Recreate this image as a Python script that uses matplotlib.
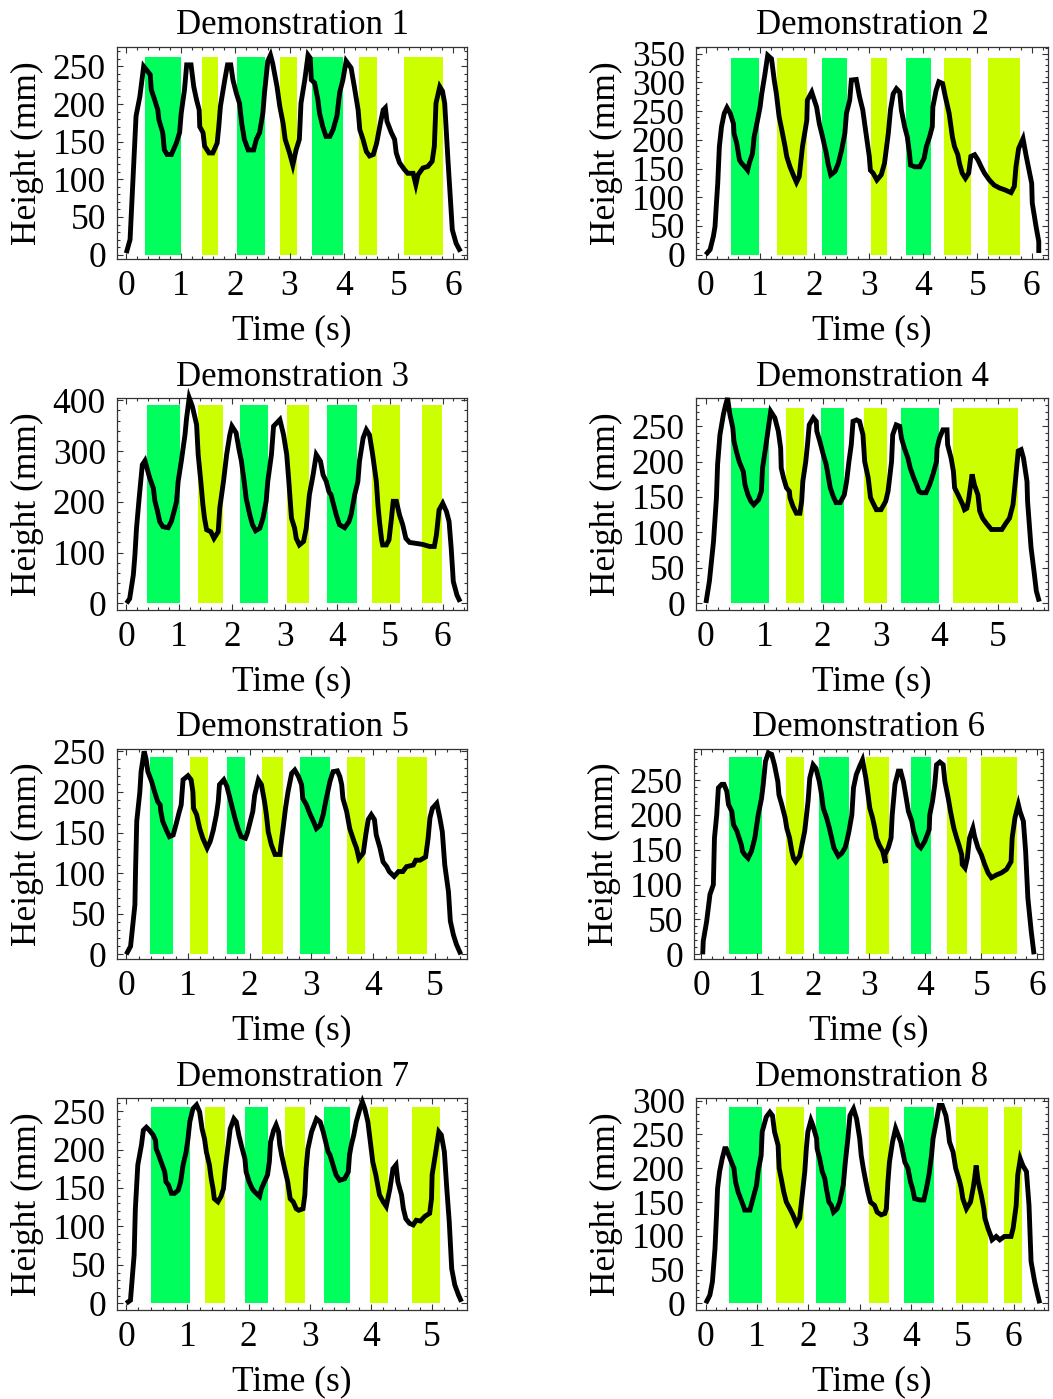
import matplotlib
matplotlib.use('Agg')
import matplotlib.pyplot as plt
from matplotlib.ticker import MultipleLocator

plt.rcParams['font.family'] = ['Liberation Serif', 'DejaVu Serif']
plt.rcParams['font.size'] = 25

GREEN = '#00ff5c'
YELLOW = '#ccff00'
FRAME = '#333333'

# ── Demonstration 1 ───────────────────────────────────────────────
time1 = [0.00, 0.07, 0.18, 0.25, 0.32, 0.44, 0.46, 0.52, 0.58, 0.60,
         0.67, 0.70, 0.75, 0.83, 0.92, 0.98, 1.01, 1.07, 1.11, 1.19,
         1.24, 1.29, 1.34, 1.35, 1.41, 1.44, 1.52, 1.59, 1.67, 1.70,
         1.73, 1.81, 1.86, 1.92, 1.96, 2.02, 2.08, 2.12, 2.17, 2.24,
         2.34, 2.39, 2.45, 2.51, 2.54, 2.60, 2.65, 2.69, 2.77, 2.82,
         2.88, 2.92, 3.00, 3.06, 3.12, 3.18, 3.21, 3.28, 3.34, 3.38,
         3.40, 3.46, 3.52, 3.55, 3.61, 3.67, 3.74, 3.80, 3.87, 3.92,
         3.98, 4.04, 4.13, 4.19, 4.26, 4.29, 4.35, 4.41, 4.47, 4.54,
         4.60, 4.67, 4.72, 4.76, 4.79, 4.87, 4.93, 4.96, 5.02, 5.11,
         5.17, 5.27, 5.32, 5.36, 5.45, 5.54, 5.62, 5.66, 5.69, 5.76,
         5.81, 5.85, 5.91, 5.99, 6.06, 6.14]
height1 = [2, 20, 184, 210, 250, 239, 219, 206, 192, 179,
           162, 139, 133, 133, 148, 162, 188, 219, 252, 252,
           223, 206, 192, 170, 162, 144, 135, 135, 148, 170,
           197, 232, 252, 252, 232, 215, 201, 175, 153, 139,
           139, 153, 162, 188, 215, 257, 265, 254, 223, 197,
           175, 153, 135, 119, 139, 153, 201, 232, 265, 261,
           232, 228, 206, 188, 170, 157, 157, 166, 184, 215,
           232, 257, 248, 223, 192, 166, 153, 137, 131, 133,
           148, 175, 192, 195, 177, 162, 153, 135, 122, 113,
           108, 108, 93, 106, 115, 117, 124, 144, 201, 223,
           217, 201, 126, 33, 15, 4]
green1 = [(0.34, 1.00), (2.03, 2.55), (3.42, 3.98)]
yellow1 = [(1.40, 1.68), (2.82, 3.14), (4.27, 4.60), (5.11, 5.81)]
top1 = 262

# ── Demonstration 2 ───────────────────────────────────────────────
time2 = [0.00, 0.08, 0.14, 0.17, 0.20, 0.22, 0.25, 0.29, 0.34, 0.39,
         0.45, 0.51, 0.52, 0.57, 0.62, 0.66, 0.72, 0.77, 0.80, 0.86,
         0.89, 0.94, 1.00, 1.03, 1.09, 1.14, 1.21, 1.26, 1.30, 1.35,
         1.40, 1.46, 1.49, 1.55, 1.61, 1.67, 1.72, 1.78, 1.86, 1.87,
         1.95, 2.04, 2.09, 2.15, 2.19, 2.22, 2.25, 2.30, 2.38, 2.44,
         2.50, 2.56, 2.59, 2.65, 2.68, 2.77, 2.83, 2.89, 2.95, 3.01,
         3.03, 3.08, 3.15, 3.23, 3.29, 3.36, 3.40, 3.45, 3.51, 3.57,
         3.60, 3.66, 3.71, 3.75, 3.77, 3.85, 3.94, 4.02, 4.06, 4.12,
         4.17, 4.18, 4.24, 4.29, 4.36, 4.41, 4.48, 4.54, 4.58, 4.64,
         4.67, 4.72, 4.78, 4.84, 4.88, 4.95, 5.01, 5.07, 5.13, 5.22,
         5.31, 5.41, 5.50, 5.62, 5.68, 5.71, 5.76, 5.84, 5.90, 6.00,
         6.01, 6.08, 6.13, 6.13]
height2 = [0, 9, 32, 49, 95, 124, 188, 223, 246, 256,
           246, 228, 211, 194, 165, 159, 153, 147, 159, 176,
           205, 228, 257, 280, 315, 347, 341, 304, 280, 240,
           217, 188, 171, 153, 139, 126, 136, 188, 234, 269,
           283, 257, 228, 205, 188, 176, 159, 139, 145, 159,
           182, 211, 246, 269, 304, 305, 275, 252, 211, 171,
           147, 142, 130, 139, 159, 211, 252, 280, 289, 283,
           252, 223, 205, 176, 156, 153, 153, 168, 188, 205,
           223, 257, 286, 301, 298, 275, 246, 205, 188, 174,
           159, 142, 133, 142, 171, 174, 165, 153, 142, 130,
           121, 116, 113, 108, 119, 153, 185, 202, 171, 124,
           90, 49, 23, 3]
green2 = [(0.47, 0.98), (2.14, 2.60), (3.68, 4.14)]
yellow2 = [(1.32, 1.87), (3.04, 3.33), (4.38, 4.89), (5.19, 5.79)]
top2 = 343

# ── Demonstration 3 ───────────────────────────────────────────────
time3 = [0.00, 0.06, 0.13, 0.16, 0.19, 0.24, 0.30, 0.35, 0.39, 0.44,
         0.51, 0.54, 0.59, 0.63, 0.69, 0.79, 0.85, 0.92, 0.95, 0.98,
         1.04, 1.11, 1.14, 1.19, 1.25, 1.33, 1.36, 1.41, 1.45, 1.48,
         1.52, 1.60, 1.66, 1.74, 1.77, 1.84, 1.90, 1.96, 2.00, 2.08,
         2.13, 2.18, 2.24, 2.27, 2.34, 2.39, 2.45, 2.53, 2.59, 2.65,
         2.68, 2.75, 2.79, 2.91, 2.98, 3.04, 3.08, 3.13, 3.19, 3.22,
         3.28, 3.36, 3.41, 3.47, 3.54, 3.60, 3.68, 3.73, 3.79, 3.84,
         3.88, 3.93, 3.98, 4.04, 4.14, 4.22, 4.26, 4.33, 4.39, 4.42,
         4.49, 4.55, 4.61, 4.67, 4.74, 4.77, 4.80, 4.84, 4.86, 4.93,
         4.98, 5.02, 5.06, 5.12, 5.18, 5.24, 5.30, 5.37, 5.50, 5.62,
         5.75, 5.84, 5.88, 5.93, 6.00, 6.07, 6.12, 6.16, 6.20, 6.27,
         6.33]
height3 = [0, 9, 56, 95, 148, 207, 273, 281, 266, 247,
           227, 201, 181, 161, 151, 149, 161, 188, 201, 240,
           280, 332, 365, 405, 388, 352, 293, 240, 194, 168,
           145, 141, 128, 141, 188, 240, 293, 332, 349, 336,
           306, 280, 234, 207, 174, 155, 143, 148, 168, 201,
           240, 293, 349, 362, 332, 293, 240, 168, 148, 128,
           115, 122, 148, 214, 253, 293, 280, 253, 240, 220,
           214, 194, 174, 155, 149, 161, 174, 214, 240, 280,
           326, 342, 332, 293, 240, 194, 161, 125, 115, 115,
           125, 161, 201, 201, 174, 155, 128, 120, 118, 116,
           112, 112, 135, 184, 197, 181, 161, 109, 43, 16,
           3]
green3 = [(0.39, 1.01), (2.15, 2.68), (3.80, 4.37)]
yellow3 = [(1.35, 1.83), (3.05, 3.47), (4.65, 5.18), (5.60, 5.98)]
top3 = 391

# ── Demonstration 4 ───────────────────────────────────────────────
time4 = [0.00, 0.06, 0.13, 0.18, 0.20, 0.24, 0.30, 0.34, 0.37, 0.41,
         0.46, 0.48, 0.52, 0.57, 0.64, 0.67, 0.72, 0.77, 0.82, 0.90,
         0.95, 0.97, 1.03, 1.07, 1.11, 1.18, 1.24, 1.28, 1.29, 1.33,
         1.38, 1.43, 1.44, 1.49, 1.55, 1.61, 1.64, 1.66, 1.71, 1.74,
         1.77, 1.84, 1.89, 1.90, 1.95, 2.01, 2.06, 2.09, 2.13, 2.18,
         2.23, 2.30, 2.37, 2.41, 2.45, 2.49, 2.52, 2.58, 2.63, 2.69,
         2.72, 2.78, 2.82, 2.86, 2.92, 3.00, 3.08, 3.12, 3.18, 3.20,
         3.26, 3.32, 3.35, 3.40, 3.46, 3.50, 3.56, 3.61, 3.65, 3.69,
         3.77, 3.83, 3.89, 3.95, 3.96, 4.00, 4.06, 4.13, 4.14, 4.20,
         4.24, 4.26, 4.32, 4.40, 4.43, 4.47, 4.50, 4.56, 4.60, 4.66,
         4.69, 4.74, 4.80, 4.89, 4.97, 5.07, 5.14, 5.20, 5.26, 5.29,
         5.35, 5.40, 5.44, 5.50, 5.51, 5.54, 5.57, 5.62, 5.66, 5.71]
height4 = [0, 31, 87, 149, 196, 238, 267, 281, 290, 267,
           248, 229, 215, 200, 186, 167, 153, 144, 139, 146,
           158, 191, 224, 248, 271, 262, 243, 219, 191, 177,
           163, 158, 149, 137, 127, 127, 144, 172, 200, 224,
           252, 262, 257, 243, 229, 210, 196, 182, 163, 151,
           142, 142, 153, 172, 200, 224, 257, 259, 257, 238,
           200, 177, 149, 142, 132, 132, 144, 158, 200, 238,
           252, 250, 233, 219, 205, 191, 177, 167, 158, 156,
           156, 167, 182, 200, 219, 233, 245, 245, 224, 205,
           186, 163, 153, 139, 132, 134, 146, 182, 167, 153,
           130, 120, 113, 104, 104, 104, 113, 120, 139, 163,
           215, 217, 205, 172, 144, 111, 78, 45, 17, 2]
green4 = [(0.43, 1.08), (1.97, 2.36), (3.34, 3.99)]
yellow4 = [(1.37, 1.68), (2.70, 3.10), (4.24, 5.35)]
top4 = 276

# ── Demonstration 5 ───────────────────────────────────────────────
time5 = [0.00, 0.07, 0.14, 0.15, 0.17, 0.22, 0.24, 0.29, 0.32, 0.35,
         0.41, 0.46, 0.51, 0.55, 0.56, 0.59, 0.65, 0.70, 0.76, 0.81,
         0.86, 0.89, 0.92, 1.00, 1.05, 1.08, 1.09, 1.14, 1.19, 1.24,
         1.31, 1.36, 1.41, 1.46, 1.49, 1.51, 1.58, 1.63, 1.68, 1.72,
         1.76, 1.81, 1.86, 1.93, 1.96, 2.00, 2.05, 2.08, 2.14, 2.19,
         2.24, 2.27, 2.30, 2.35, 2.41, 2.49, 2.50, 2.54, 2.58, 2.62,
         2.68, 2.73, 2.79, 2.84, 2.86, 2.92, 2.97, 3.03, 3.08, 3.14,
         3.19, 3.23, 3.30, 3.35, 3.42, 3.46, 3.49, 3.51, 3.57, 3.62,
         3.69, 3.73, 3.77, 3.84, 3.88, 3.92, 3.97, 4.02, 4.05, 4.11,
         4.16, 4.22, 4.26, 4.34, 4.41, 4.48, 4.54, 4.65, 4.69, 4.76,
         4.85, 4.89, 4.92, 4.96, 5.03, 5.08, 5.12, 5.16, 5.22, 5.25,
         5.30, 5.35, 5.42]
height5 = [0, 10, 61, 102, 164, 200, 225, 250, 241, 225,
           213, 200, 188, 184, 176, 164, 153, 145, 147, 161,
           176, 184, 215, 220, 215, 200, 180, 172, 155, 143,
           131, 139, 153, 172, 188, 209, 215, 207, 192, 180,
           168, 155, 145, 143, 149, 161, 176, 196, 215, 209,
           188, 172, 151, 135, 123, 123, 131, 155, 180, 200,
           223, 227, 219, 209, 192, 184, 174, 164, 155, 159,
           172, 188, 213, 225, 226, 219, 209, 192, 176, 155,
           139, 131, 118, 125, 147, 166, 172, 166, 147, 131,
           114, 108, 102, 96, 102, 102, 108, 110, 116, 116,
           120, 143, 168, 180, 186, 168, 151, 110, 77, 41,
           24, 12, 0]
green5 = [(0.38, 0.75), (1.63, 1.92), (2.81, 3.30)]
yellow5 = [(1.03, 1.32), (2.20, 2.54), (3.57, 3.87), (4.38, 4.87)]
top5 = 243

# ── Demonstration 6 ───────────────────────────────────────────────
time6 = [0.03, 0.04, 0.10, 0.16, 0.22, 0.24, 0.28, 0.31, 0.37, 0.41,
         0.46, 0.49, 0.55, 0.58, 0.64, 0.68, 0.72, 0.74, 0.78, 0.84,
         0.90, 0.96, 1.02, 1.08, 1.11, 1.15, 1.20, 1.26, 1.31, 1.37,
         1.39, 1.44, 1.50, 1.53, 1.58, 1.62, 1.65, 1.69, 1.76, 1.80,
         1.85, 1.91, 1.94, 2.00, 2.05, 2.11, 2.15, 2.18, 2.24, 2.29,
         2.33, 2.37, 2.45, 2.51, 2.57, 2.60, 2.64, 2.69, 2.72, 2.77,
         2.83, 2.88, 2.94, 2.98, 3.01, 3.06, 3.10, 3.13, 3.18, 3.24,
         3.29, 3.28, 3.34, 3.39, 3.41, 3.46, 3.52, 3.56, 3.61, 3.65,
         3.70, 3.76, 3.79, 3.83, 3.87, 3.92, 3.99, 4.07, 4.08, 4.13,
         4.17, 4.20, 4.26, 4.32, 4.35, 4.41, 4.45, 4.51, 4.56, 4.60,
         4.65, 4.66, 4.71, 4.75, 4.79, 4.85, 4.88, 4.94, 5.00, 5.06,
         5.12, 5.18, 5.27, 5.36, 5.45, 5.53, 5.55, 5.60, 5.66, 5.69,
         5.75, 5.79, 5.83, 5.89, 5.94]
height6 = [0, 19, 47, 86, 100, 167, 200, 239, 244, 244,
           234, 215, 205, 186, 177, 167, 157, 148, 143, 138,
           148, 167, 200, 224, 244, 277, 289, 287, 272, 248,
           229, 215, 196, 181, 167, 148, 138, 133, 141, 157,
           177, 220, 253, 272, 267, 248, 229, 210, 196, 181,
           167, 153, 141, 145, 153, 162, 177, 200, 239, 258,
           270, 279, 253, 229, 210, 196, 181, 167, 157, 148,
           131, 143, 153, 167, 200, 244, 263, 263, 248, 229,
           205, 191, 177, 167, 157, 153, 162, 179, 200, 220,
           244, 272, 276, 272, 248, 224, 205, 181, 167, 157,
           143, 129, 124, 138, 167, 181, 169, 153, 143, 129,
           117, 110, 114, 117, 122, 133, 167, 196, 215, 205,
           191, 148, 81, 33, 0]
green6 = [(0.50, 1.09), (2.10, 2.64), (3.74, 4.10)]
yellow6 = [(1.52, 1.84), (2.94, 3.35), (4.39, 4.74), (4.99, 5.63)]
top6 = 283

# ── Demonstration 7 ───────────────────────────────────────────────
time7 = [0.00, 0.07, 0.13, 0.15, 0.19, 0.25, 0.28, 0.33, 0.38, 0.44,
         0.48, 0.49, 0.53, 0.57, 0.63, 0.65, 0.69, 0.74, 0.79, 0.85,
         0.89, 0.93, 0.98, 1.01, 1.04, 1.09, 1.15, 1.20, 1.24, 1.28,
         1.31, 1.36, 1.39, 1.42, 1.44, 1.50, 1.55, 1.59, 1.62, 1.66,
         1.70, 1.76, 1.80, 1.84, 1.88, 1.94, 1.96, 2.01, 2.06, 2.10,
         2.18, 2.21, 2.26, 2.31, 2.34, 2.36, 2.41, 2.45, 2.49, 2.51,
         2.54, 2.59, 2.64, 2.68, 2.73, 2.78, 2.82, 2.89, 2.92, 2.94,
         2.97, 3.03, 3.11, 3.17, 3.22, 3.26, 3.30, 3.33, 3.38, 3.43,
         3.49, 3.57, 3.63, 3.65, 3.68, 3.72, 3.76, 3.82, 3.86, 3.90,
         3.95, 3.99, 4.03, 4.08, 4.14, 4.20, 4.25, 4.31, 4.36, 4.41,
         4.44, 4.50, 4.53, 4.57, 4.63, 4.69, 4.74, 4.81, 4.88, 4.96,
         4.99, 5.00, 5.06, 5.11, 5.15, 5.20, 5.24, 5.28, 5.32, 5.37,
         5.43, 5.48]
height7 = [0, 4, 63, 123, 180, 206, 225, 229, 225, 219,
           212, 201, 193, 184, 171, 158, 154, 143, 143, 147,
           158, 180, 197, 214, 236, 253, 258, 249, 227, 214,
           197, 180, 162, 149, 136, 132, 139, 149, 175, 201,
           227, 240, 236, 219, 206, 188, 171, 158, 149, 145,
           139, 149, 158, 167, 184, 210, 225, 232, 223, 206,
           193, 175, 158, 136, 132, 123, 121, 123, 141, 175,
           201, 223, 240, 236, 223, 210, 197, 193, 180, 167,
           160, 162, 171, 193, 206, 219, 236, 253, 262, 253,
           236, 210, 184, 167, 141, 132, 126, 149, 175, 180,
           158, 141, 123, 110, 104, 102, 108, 107, 113, 117,
           136, 167, 197, 223, 219, 197, 149, 106, 45, 24,
           11, 2]
green7 = [(0.41, 1.04), (1.94, 2.31), (3.24, 3.65)]
yellow7 = [(1.28, 1.61), (2.59, 2.92), (3.98, 4.28), (4.67, 5.13)]
top7 = 255

# ── Demonstration 8 ───────────────────────────────────────────────
time8 = [0.00, 0.08, 0.13, 0.18, 0.21, 0.23, 0.27, 0.32, 0.37, 0.40,
         0.45, 0.50, 0.55, 0.58, 0.63, 0.68, 0.73, 0.76, 0.86, 0.92,
         0.99, 1.02, 1.08, 1.10, 1.18, 1.25, 1.30, 1.34, 1.41, 1.43,
         1.47, 1.52, 1.57, 1.64, 1.70, 1.77, 1.83, 1.88, 1.93, 1.96,
         1.99, 2.05, 2.09, 2.16, 2.17, 2.22, 2.27, 2.32, 2.35, 2.40,
         2.45, 2.49, 2.56, 2.61, 2.68, 2.72, 2.77, 2.81, 2.88, 2.94,
         3.00, 3.03, 3.07, 3.12, 3.16, 3.21, 3.29, 3.34, 3.42, 3.49,
         3.52, 3.55, 3.58, 3.64, 3.70, 3.75, 3.80, 3.84, 3.88, 3.94,
         3.99, 4.03, 4.07, 4.17, 4.25, 4.30, 4.35, 4.40, 4.43, 4.49,
         4.55, 4.61, 4.68, 4.72, 4.75, 4.82, 4.87, 4.95, 4.98, 5.01,
         5.08, 5.16, 5.21, 5.24, 5.27, 5.31, 5.37, 5.42, 5.44, 5.50,
         5.55, 5.58, 5.66, 5.73, 5.82, 5.95, 5.99, 6.05, 6.08, 6.13,
         6.18, 6.25, 6.30, 6.34, 6.41, 6.47, 6.51]
height8 = [0, 12, 32, 81, 131, 170, 195, 214, 229, 229,
           219, 209, 200, 180, 165, 155, 145, 138, 138, 155,
           175, 195, 219, 254, 276, 283, 278, 254, 234, 200,
           185, 165, 150, 140, 131, 118, 126, 160, 195, 229,
           254, 271, 263, 244, 229, 214, 195, 185, 170, 150,
           145, 135, 140, 150, 175, 209, 244, 278, 288, 273,
           244, 219, 200, 180, 165, 150, 145, 135, 131, 133,
           140, 180, 209, 239, 259, 249, 239, 224, 209, 200,
           180, 170, 155, 153, 153, 170, 190, 219, 244, 268,
           293, 293, 278, 259, 239, 224, 200, 180, 170, 155,
           140, 150, 170, 185, 204, 180, 160, 140, 126, 111,
           101, 94, 99, 94, 99, 99, 111, 145, 190, 214,
           204, 195, 145, 62, 32, 12, 0]
green8 = [(0.45, 1.09), (2.14, 2.73), (3.86, 4.44)]
yellow8 = [(1.36, 1.91), (3.18, 3.57), (4.87, 5.51), (5.81, 6.16)]
top8 = 290

# ── Layout (pixel boxes: left, right, top, bottom) ───────────────
W, H = 1053, 1399
layout = [
    (time1, height1, green1, yellow1, top1, (117, 467, 47, 259), (-0.17, 6.26), (-5.8, 275.7), 50),
    (time2, height2, green2, yellow2, top2, (696, 1048, 47, 259), (-0.18, 6.30), (-7.5, 361.5), 50),
    (time3, height3, green3, yellow3, top3, (117, 467, 398, 610), (-0.18, 6.46), (-13.2, 404.6), 100),
    (time4, height4, green4, yellow4, top4, (696, 1048, 398, 610), (-0.17, 5.86), (-9.9, 290.0), 50),
    (time5, height5, green5, yellow5, top5, (117, 467, 749, 959), (-0.15, 5.52), (-5.7, 252.9), 50),
    (time6, height6, green6, yellow6, top6, (694, 1043, 749, 959), (-0.125, 6.10), (-6.7, 294.7), 50),
    (time7, height7, green7, yellow7, top7, (117, 467, 1098, 1310), (-0.15, 5.57), (-8.7, 267.0), 50),
    (time8, height8, green8, yellow8, top8, (696, 1048, 1098, 1310), (-0.19, 6.67), (-9.9, 304.0), 50),
]

fig = plt.figure(figsize=(W / 100, H / 100), dpi=100)

for i, (t, h, greens, yellows, top, box, xlim, ylim, ystep) in enumerate(layout):
    left, right, ytop, ybot = box
    ax = fig.add_axes([left / W, 1 - ybot / H, (right - left) / W, (ybot - ytop) / H])

    # shaded phases
    for spans, color in ((greens, GREEN), (yellows, YELLOW)):
        starts = [s for s, e in spans]
        widths = [e - s for s, e in spans]
        ax.bar(starts, [top] * len(spans), width=widths, bottom=0, align='edge',
               color=color, linewidth=0, zorder=1)

    ax.plot(t, h, color='black', lw=3.5, solid_joinstyle='miter',
            solid_capstyle='butt', zorder=3, clip_on=False)

    ax.set_xlim(*xlim)
    ax.set_ylim(*ylim)
    ax.xaxis.set_major_locator(MultipleLocator(1))
    ax.xaxis.set_minor_locator(MultipleLocator(0.2))
    ax.yaxis.set_major_locator(MultipleLocator(ystep))
    ax.yaxis.set_minor_locator(MultipleLocator(ystep / 5))

    for sp in ax.spines.values():
        sp.set_color(FRAME)
        sp.set_linewidth(0.9)
    ax.tick_params(which='both', direction='in', top=True, right=True,
                   color=FRAME, width=0.8, labelsize=25.5)
    ax.tick_params(which='major', length=4, pad=8)
    ax.tick_params(which='minor', length=2)

    ax.set_title(f"Demonstration {i + 1}", fontsize=25, pad=9)
    ax.set_xlabel("Time (s)", fontsize=25.5, labelpad=8)
    ax.set_ylabel("Height (mm)", fontsize=25.5, labelpad=6)

fig.savefig("out.png", dpi=100)
